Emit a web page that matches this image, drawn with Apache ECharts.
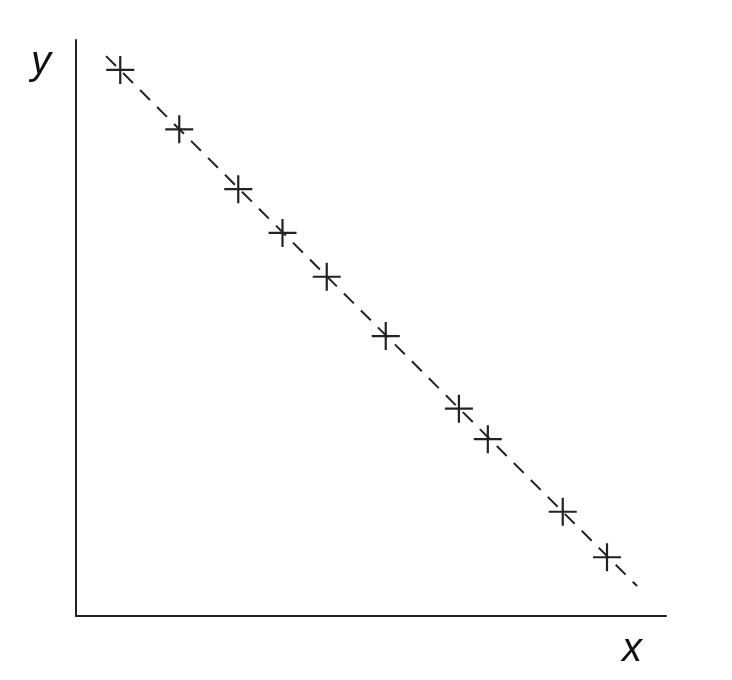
<!DOCTYPE html>
<html>
<head>
<meta charset="utf-8">
<script src="https://cdn.jsdelivr.net/npm/echarts@6/dist/echarts.min.js"></script>
<style>
html, body { margin: 0; padding: 0; background: #fff; }
#main { width: 732px; height: 680px; }
</style>
</head>
<body>
<div id="main"></div>
<script>
var myChart = echarts.init(document.getElementById('main'));

// measured points
var xValues = [7.5, 17.5, 27.5, 35.0, 42.5, 52.5, 64.9, 69.8, 82.5, 90.0];
var yValues = [94.8, 84.5, 74.1, 66.5, 58.9, 48.6, 36.0, 30.7, 18.1, 10.2];
// fitted dashed line end points
var fitX = [5.1, 95.1];
var fitY = [97.2, 5.2];

var points = [];
for (var i = 0; i < xValues.length; i++) {
    points.push([xValues[i], yValues[i]]);
}
var fitLine = [[fitX[0], fitY[0]], [fitX[1], fitY[1]]];

var plus = 'path://M-1.1,-14L1.1,-14L1.1,14L-1.1,14ZM-14,-1.1L14,-1.1L14,1.1L-14,1.1Z';

var option = {
    animation: false,
    backgroundColor: '#fff',
    grid: {
        left: 76,
        right: 66,
        top: 40,
        bottom: 64
    },
    xAxis: {
        type: 'value',
        min: 0,
        max: 100,
        axisLine: {show: true, onZero: false, lineStyle: {color: '#222', width: 2}},
        axisTick: {show: false},
        axisLabel: {show: false},
        splitLine: {show: false}
    },
    yAxis: {
        type: 'value',
        min: 0,
        max: 100,
        axisLine: {show: true, onZero: false, lineStyle: {color: '#222', width: 2}},
        axisTick: {show: false},
        axisLabel: {show: false},
        splitLine: {show: false}
    },
    graphic: [
        {
            type: 'text',
            left: 31,
            top: 43,
            style: {text: 'y', font: 'italic 40px "Liberation Sans", Arial, sans-serif', fill: '#111'}
        },
        {
            type: 'text',
            left: 622,
            top: 630,
            style: {text: 'x', font: 'italic 40px "Liberation Sans", Arial, sans-serif', fill: '#111'}
        }
    ],
    series: [
        {
            type: 'line',
            data: fitLine,
            symbol: 'none',
            lineStyle: {color: '#222', width: 2, type: [14, 10]},
            silent: true
        },
        {
            type: 'scatter',
            data: points,
            symbol: plus,
            symbolSize: 28,
            itemStyle: {color: '#222', opacity: 1}
        }
    ]
};

myChart.setOption(option);
</script>
</body>
</html>
